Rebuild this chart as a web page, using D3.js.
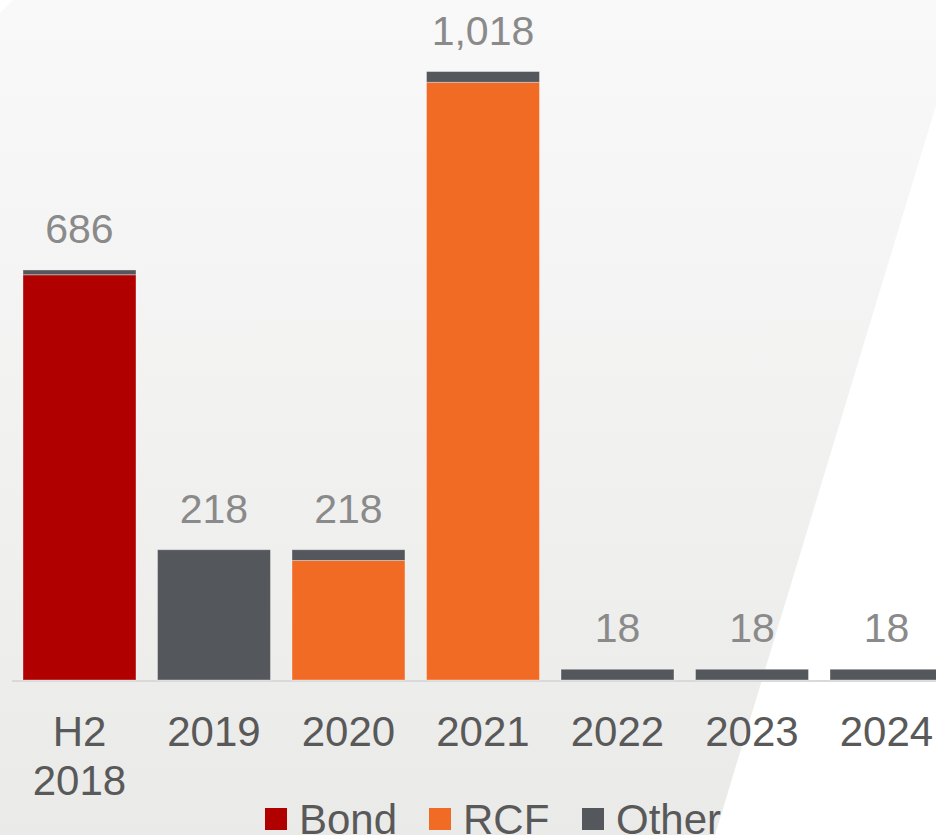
<!DOCTYPE html>
<html>
<head>
<meta charset="utf-8">
<script src="https://cdn.jsdelivr.net/npm/d3@7/dist/d3.min.js"></script>
<style>
  html, body { margin: 0; padding: 0; background: #ffffff; }
  svg { display: block; }
  text { font-family: "Liberation Sans", Arial, sans-serif; }
</style>
</head>
<body>
<svg id="chart" width="936" height="835"></svg>
<script>
// Debt maturity profile, stacked by instrument
const categories = [["H2", "2018"], ["2019"], ["2020"], ["2021"], ["2022"], ["2023"], ["2024"]];
const seriesNames = ["Bond", "RCF", "Other"];
const bond  = [678, 0, 0, 0, 0, 0, 0];
const rcf   = [0, 0, 200, 1000, 0, 0, 0];
const other = [8, 218, 18, 18, 18, 18, 18];
const totals = [686, 218, 218, 1018, 18, 18, 18];
const colors = ["#b00000", "#f26b24", "#54575c"];

const W = 936, H = 835;
const svg = d3.select("#chart");

// Slanted light-grey panel behind the plot
const defs = svg.append("defs");
const grad = defs.append("linearGradient")
  .attr("id", "panelGrad").attr("x1", 0).attr("y1", 0).attr("x2", 0).attr("y2", 1);
grad.append("stop").attr("offset", "0%").attr("stop-color", "#f9f9f9");
grad.append("stop").attr("offset", "100%").attr("stop-color", "#eaeae9");

svg.append("path")
  .attr("d", d3.line()([[0, 13], [13, 0], [968, 0], [968 - 0.303 * H, H], [0, H]]) + "Z")
  .attr("fill", "url(#panelGrad)");

// Scales
const keys = categories.map(c => c.join(" "));
const x = d3.scaleBand()
  .domain(keys)
  .range([12.24, 12.24 + 7 * 134.5])
  .paddingInner(0.16)
  .paddingOuter(0.08);

const y = d3.scaleLinear().domain([0, 1100]).range([680, 680 - 1100 * 0.5977]);

// Stack data
const rows = keys.map((k, i) => ({ key: k, Bond: bond[i], RCF: rcf[i], Other: other[i] }));
const stack = d3.stack().keys(seriesNames)(rows);

// Baseline
svg.append("line")
  .attr("x1", 12).attr("x2", W)
  .attr("y1", y(0) + 1).attr("y2", y(0) + 1)
  .attr("stroke", "#d9d9d9").attr("stroke-width", 2);

// Bars
svg.append("g").selectAll("g")
  .data(stack)
  .join("g")
  .attr("fill", (d, i) => colors[i])
  .selectAll("rect")
  .data(d => d.filter(s => s[1] - s[0] > 0))
  .join("rect")
  .attr("x", d => x(d.data.key))
  .attr("width", x.bandwidth())
  .attr("y", d => y(d[1]))
  .attr("height", d => y(d[0]) - y(d[1]))
  .attr("stroke", "rgba(255,255,255,0.35)")
  .attr("stroke-width", 1);

// Total labels above bars
const fmt = d3.format(",");
svg.append("g").selectAll("text")
  .data(keys)
  .join("text")
  .attr("x", d => x(d) + x.bandwidth() / 2)
  .attr("y", (d, i) => y(totals[i]) - 27)
  .attr("text-anchor", "middle")
  .attr("font-size", 41)
  .attr("fill", "#8a8a8a")
  .text((d, i) => fmt(totals[i]));

// Category labels
const catG = svg.append("g");
categories.forEach((lines, i) => {
  const t = catG.append("text")
    .attr("x", x(keys[i]) + x.bandwidth() / 2)
    .attr("y", 746)
    .attr("text-anchor", "middle")
    .attr("font-size", 42)
    .attr("fill", "#595959");
  lines.forEach((ln, j) => {
    t.append("tspan")
      .attr("x", x(keys[i]) + x.bandwidth() / 2)
      .attr("dy", j === 0 ? 0 : 49)
      .text(ln);
  });
});

// Legend
const legendX = [265, 429, 582];
const leg = svg.append("g").selectAll("g")
  .data(seriesNames)
  .join("g")
  .attr("transform", (d, i) => `translate(${legendX[i]},808)`);
leg.append("rect")
  .attr("width", 22).attr("height", 22)
  .attr("fill", (d, i) => colors[i]);
leg.append("text")
  .attr("x", 34).attr("y", 25.5)
  .attr("font-size", 42)
  .attr("fill", "#595959")
  .text(d => d);
</script>
</body>
</html>
